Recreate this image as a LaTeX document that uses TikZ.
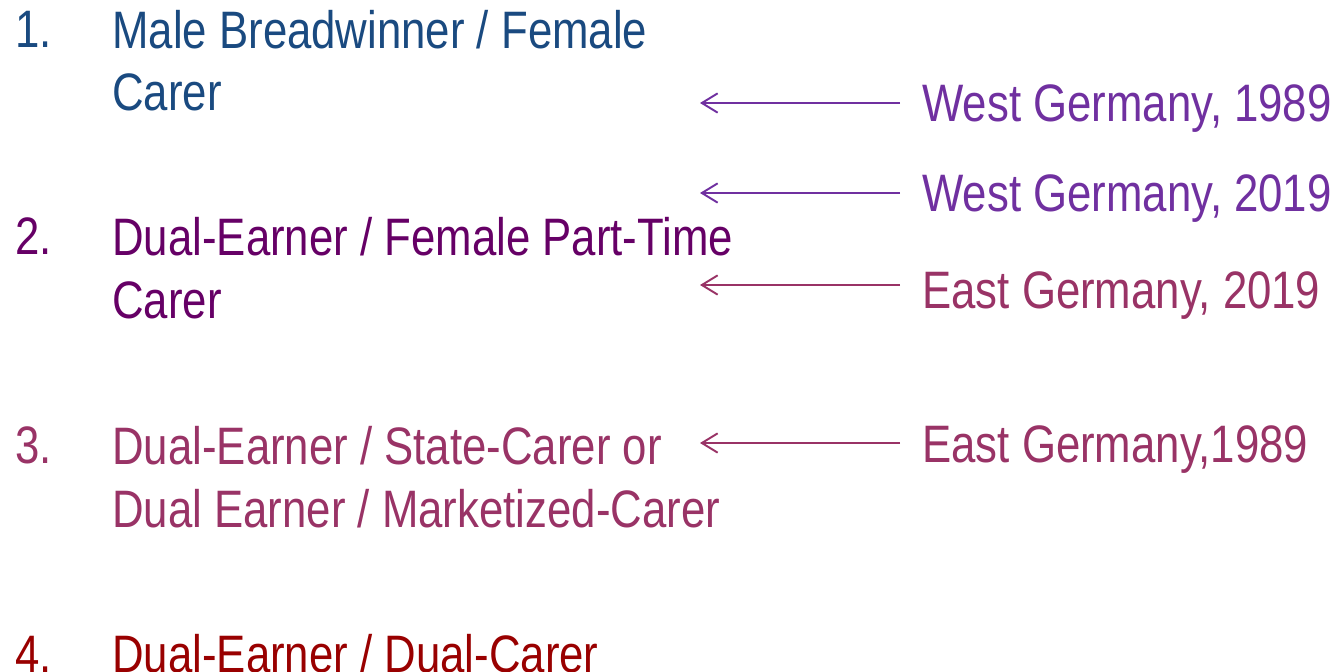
\documentclass[tikz,border=0pt]{standalone}
\usepackage{fontspec}
\setmainfont{Liberation Sans}[FakeStretch=0.83]
\usepackage{tikz}
\usetikzlibrary{arrows.meta,positioning}
\definecolor{RegBlue}{HTML}{1A4A80}
\definecolor{RegPlum}{HTML}{660066}
\definecolor{RegRose}{HTML}{993366}
\definecolor{RegRed}{HTML}{990000}
\definecolor{WestViolet}{HTML}{7030A0}

\begin{document}
\begin{tikzpicture}[
    x=0.02cm, y=-0.02cm,
    font=\fontsize{30}{35.8}\selectfont,
    num/.style={anchor=base west, inner sep=0pt},
    regime/.style={anchor=base west, inner sep=0pt, align=left}, % base = last line
    case/.style={anchor=base west, inner sep=0pt},
    arr/.style={-{Straight Barb[length=9pt,width=11pt]}, line width=1.1pt}
]
\useasboundingbox (0,0) rectangle (1341,672);

% left column: the four regimes
\node[num, RegBlue] (n1) at (15,48) {1.};
\node[regime, RegBlue] (r1) at (112,111) {Male Breadwinner / Female\\Carer};
\node[num, RegPlum] (n2) at (15,255) {2.};
\node[regime, RegPlum] (r2) at (112,318) {Dual-Earner / Female Part-Time\\Carer};
\node[num, RegRose] (n3) at (15,463) {3.};
\node[regime, RegRose] (r3) at (112,527) {Dual-Earner / State-Carer or\\Dual Earner / Marketized-Carer};
\node[num, RegRed] (n4) at (15,672) {4.};
\node[regime, RegRed] (r4) at (112,672) {Dual-Earner / Dual-Carer};

% right column: the cases
\node[case, WestViolet] (w89) at (922,122) {West Germany, 1989};
\node[case, WestViolet] (w19) at (922,212) {West Germany, 2019};
\node[case, RegRose] (e19) at (922,308) {East Germany, 2019};
\node[case, RegRose] (e89) at (922,462) {East Germany,1989};

% arrow tips
\coordinate (t1) at (700,103);
\coordinate (t2) at (700,193);
\coordinate (t3) at (700,285);
\coordinate (t4) at (700,443);

\draw[arr, WestViolet] ([xshift=-0.44cm]w89.west |- t1) -- (t1);
\draw[arr, WestViolet] ([xshift=-0.44cm]w19.west |- t2) -- (t2);
\draw[arr, RegRose] ([xshift=-0.44cm]e19.west |- t3) -- (t3);
\draw[arr, RegRose] ([xshift=-0.44cm]e89.west |- t4) -- (t4);

\end{tikzpicture}
\end{document}
